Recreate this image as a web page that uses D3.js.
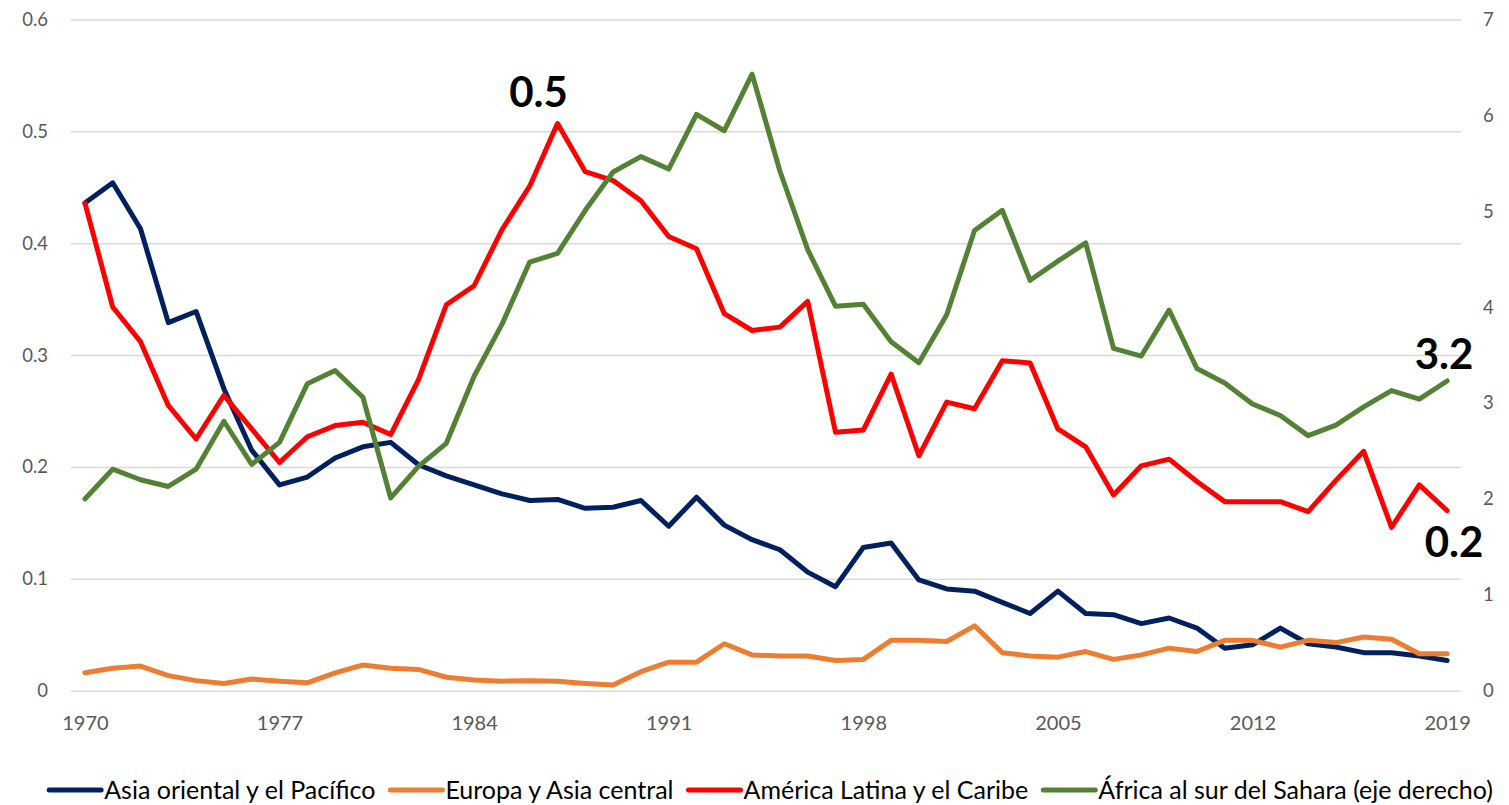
<!DOCTYPE html>
<html>
<head>
<meta charset="utf-8">
<script src="https://cdn.jsdelivr.net/npm/d3@7"></script>
<style>
  body { margin: 0; background: #fff; }
  svg { display: block; font-family: Lato, "Liberation Sans", sans-serif; }
</style>
</head>
<body>
<svg id="chart"></svg>
<script>
const years = d3.range(1970, 2020);

const asiaPacifico = [0.436, 0.454, 0.413, 0.329, 0.339, 0.270, 0.215, 0.184, 0.191, 0.208,
  0.218, 0.222, 0.202, 0.192, 0.184, 0.176, 0.170, 0.171, 0.163, 0.164,
  0.170, 0.147, 0.173, 0.148, 0.135, 0.126, 0.106, 0.093, 0.128, 0.132,
  0.099, 0.091, 0.089, 0.079, 0.069, 0.089, 0.069, 0.068, 0.060, 0.065,
  0.056, 0.038, 0.041, 0.056, 0.042, 0.039, 0.034, 0.034, 0.031, 0.027];

const europaAsia = [0.016, 0.020, 0.022, 0.0135, 0.009, 0.0065, 0.0105, 0.0085, 0.007, 0.016,
  0.023, 0.020, 0.019, 0.012, 0.0095, 0.0085, 0.009, 0.0085, 0.0065, 0.005,
  0.017, 0.0255, 0.0255, 0.042, 0.032, 0.031, 0.031, 0.027, 0.028, 0.045,
  0.045, 0.044, 0.058, 0.034, 0.031, 0.030, 0.035, 0.028, 0.032, 0.038,
  0.035, 0.045, 0.045, 0.039, 0.045, 0.043, 0.048, 0.046, 0.033, 0.033];

const americaLatina = [0.436, 0.343, 0.312, 0.255, 0.225, 0.264, 0.234, 0.204, 0.227, 0.237,
  0.240, 0.229, 0.278, 0.345, 0.362, 0.412, 0.451, 0.507, 0.464, 0.456,
  0.438, 0.406, 0.395, 0.337, 0.322, 0.325, 0.348, 0.231, 0.233, 0.283,
  0.210, 0.258, 0.252, 0.295, 0.293, 0.234, 0.218, 0.175, 0.201, 0.207,
  0.187, 0.169, 0.169, 0.169, 0.160, 0.188, 0.214, 0.146, 0.184, 0.161];

// eje derecho
const africaSubsahariana = [2.00, 2.31, 2.20, 2.13, 2.31, 2.81, 2.36, 2.59, 3.20, 3.34,
  3.06, 2.01, 2.34, 2.58, 3.28, 3.82, 4.47, 4.56, 5.01, 5.41,
  5.57, 5.44, 6.01, 5.84, 6.43, 5.42, 4.60, 4.01, 4.03, 3.64,
  3.42, 3.92, 4.80, 5.01, 4.28, 4.48, 4.67, 3.57, 3.49, 3.97,
  3.36, 3.21, 2.99, 2.87, 2.66, 2.77, 2.96, 3.13, 3.04, 3.23];

const leftTicks = [0, 0.1, 0.2, 0.3, 0.4, 0.5, 0.6];
const rightTicks = [0, 1, 2, 3, 4, 5, 6, 7];
const xTickYears = [1970, 1977, 1984, 1991, 1998, 2005, 2012, 2019];

const width = 1509;
const height = 805;
const plotLeft = 71;
const plotRight = 1461;
const plotTop = 19.5;
const plotBottom = 690.7;

const svg = d3.select("#chart")
  .attr("width", width)
  .attr("height", height);

const xScale = d3.scalePoint()
  .domain(years)
  .range([plotLeft, plotRight])
  .padding(0.5);

const yLeft = d3.scaleLinear()
  .domain([0, 0.6])
  .range([plotBottom, plotTop]);

const yRight = d3.scaleLinear()
  .domain([0, 7])
  .range([plotBottom, plotTop]);

// gridlines
const grid = svg.append("g")
  .attr("transform", `translate(${plotLeft}, 0)`)
  .call(d3.axisLeft(yLeft).tickValues(leftTicks).tickSize(-(plotRight - plotLeft)).tickFormat(""));
grid.select(".domain").remove();
grid.selectAll("line").attr("stroke", "#d9d9d9").attr("stroke-width", 1.5);

// left axis
const leftAxis = svg.append("g")
  .attr("transform", `translate(${plotLeft}, 0)`)
  .call(d3.axisLeft(yLeft).tickValues(leftTicks).tickSize(0).tickPadding(23)
    .tickFormat(d => d === 0 ? "0" : d3.format(".1f")(d)));
leftAxis.select(".domain").remove();

// right axis
const rightAxis = svg.append("g")
  .attr("transform", `translate(${plotRight}, 0)`)
  .call(d3.axisRight(yRight).tickValues(rightTicks).tickSize(0).tickPadding(22)
    .tickFormat(d3.format("d")));
rightAxis.select(".domain").remove();

// x axis
const xAxis = svg.append("g")
  .attr("transform", `translate(0, ${plotBottom})`)
  .call(d3.axisBottom(xScale).tickValues(xTickYears).tickSize(0).tickPadding(25));
xAxis.select(".domain").remove();

svg.selectAll(".tick text")
  .attr("fill", "#595959")
  .style("font-size", "18.5px")
  .style("font-family", "Lato, 'Liberation Sans', sans-serif");
xAxis.selectAll(".tick text").style("font-size", "20px");

const series = [
  { name: "Asia oriental y el Pacífico", values: asiaPacifico, color: "#002060", scale: yLeft },
  { name: "Europa y Asia central", values: europaAsia, color: "#ED7D31", scale: yLeft },
  { name: "América Latina y el Caribe", values: americaLatina, color: "#FF0000", scale: yLeft },
  { name: "África al sur del Sahara (eje derecho)", values: africaSubsahariana, color: "#548235", scale: yRight }
];

series.forEach(s => {
  const line = d3.line()
    .x((d, i) => xScale(years[i]))
    .y(d => s.scale(d));
  svg.append("path")
    .datum(s.values)
    .attr("fill", "none")
    .attr("stroke", s.color)
    .attr("stroke-width", 5)
    .attr("stroke-linejoin", "round")
    .attr("stroke-linecap", "round")
    .attr("d", line);
});

// data labels
const fmt = d3.format(".1f");
const iPeak = years.indexOf(1987);
const iLast = years.length - 1;
const labels = [
  { text: fmt(americaLatina[iPeak]), x: xScale(1987) - 19, y: yLeft(americaLatina[iPeak]) - 17 },
  { text: fmt(africaSubsahariana[iLast]), x: xScale(2019) - 3, y: yRight(africaSubsahariana[iLast]) - 12 },
  { text: fmt(americaLatina[iLast]), x: xScale(2019) + 7, y: yLeft(americaLatina[iLast]) + 46 }
];
svg.selectAll(".data-label")
  .data(labels)
  .join("text")
  .attr("class", "data-label")
  .attr("x", d => d.x)
  .attr("y", d => d.y)
  .attr("text-anchor", "middle")
  .attr("font-size", 42)
  .attr("font-weight", "bold")
  .attr("fill", "#000")
  .text(d => d.text);

// legend
const legend = svg.append("g");
const swatchW = 52;
const swatchGap = 3;
const itemGap = 15;
let cursor = 0;
series.forEach(s => {
  const g = legend.append("g").attr("transform", `translate(${cursor}, 0)`);
  g.append("line")
    .attr("x1", 0).attr("x2", swatchW)
    .attr("y1", 0).attr("y2", 0)
    .attr("stroke", s.color)
    .attr("stroke-width", 5)
    .attr("stroke-linecap", "round");
  const t = g.append("text")
    .attr("x", swatchW + swatchGap)
    .attr("y", 8.5)
    .attr("font-size", 25)
    .attr("fill", "#000")
    .text(s.name);
  cursor += swatchW + swatchGap + t.node().getComputedTextLength() + itemGap;
});
const legendWidth = cursor - itemGap;
legend.attr("transform", `translate(${771 - legendWidth / 2}, 790)`);
</script>
</body>
</html>
